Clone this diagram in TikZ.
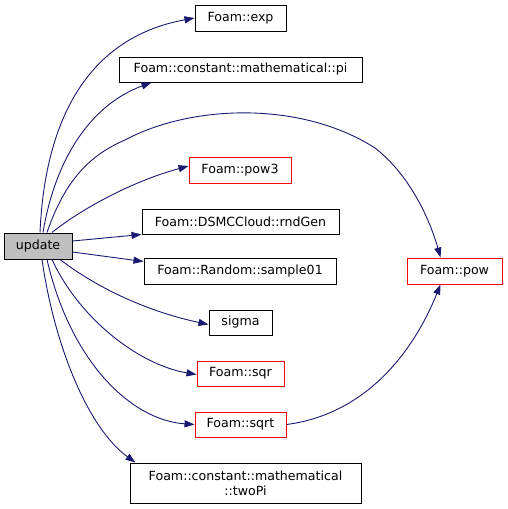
\documentclass[tikz,border=0pt]{standalone}
\usepackage{fontspec}
\setmainfont{DejaVu Sans}
\usetikzlibrary{arrows.meta}
\definecolor{edgeblue}{HTML}{191970}
\definecolor{nodegray}{HTML}{BFBFBF}
\begin{document}
\begin{tikzpicture}[x=1pt,y=-1pt,
  box/.style={draw=black,line width=1pt,rectangle,inner sep=0pt,font=\fontsize{12.6}{15}\selectfont,align=center},
  redbox/.style={box,draw=red},
  edge/.style={draw=edgeblue,line width=0.9pt,-{Triangle[length=10pt,width=7pt]}}]
\useasboundingbox (0,0) rectangle (508,509);
\node[box,fill=nodegray,minimum width=68pt,minimum height=26pt] (update) at (38,246) {update};
\node[box,minimum width=91pt,minimum height=26pt] (exp) at (240.5,18) {Foam::exp};
\node[box,minimum width=243pt,minimum height=25pt] (pi) at (240.5,69.5) {Foam::constant::mathematical::pi};
\node[redbox,minimum width=102pt,minimum height=26pt] (pow3) at (240,170) {Foam::pow3};
\node[box,minimum width=197pt,minimum height=25pt] (rnd) at (240.5,221.5) {Foam::DSMCCloud::rndGen};
\node[box,minimum width=192pt,minimum height=26pt] (samp) at (240,271) {Foam::Random::sample01};
\node[box,minimum width=63pt,minimum height=25pt] (sigma) at (240.5,322.5) {sigma};
\node[redbox,minimum width=87pt,minimum height=25pt] (sqr) at (240.5,373.5) {Foam::sqr};
\node[redbox,minimum width=91pt,minimum height=25pt] (sqrt) at (240.5,424.5) {Foam::sqrt};
\node[box,minimum width=231pt,minimum height=40pt] (twopi) at (245.5,483) {Foam::constant::mathematical\\::twoPi};
\node[redbox,minimum width=95pt,minimum height=26pt] (pow) at (454.5,271) {Foam::pow};

\draw[edge] ([xshift=2pt]update.north) .. controls (44,140) and (75,40) .. (exp.west);
\draw[edge] ([xshift=5pt]update.north) .. controls (55,160) and (90,105) .. ([xshift=33pt]pi.south west);
\draw[edge] ([xshift=9pt]update.north) .. controls (65,180) and (90,155) .. (125,140)
   .. controls (190,105) and (300,100) .. (375,148)
   .. controls (410,175) and (430,220) .. ([xshift=-14pt]pow.north);
\draw[edge] ([xshift=14pt]update.north) .. controls (80,210) and (130,182) .. ([yshift=4pt]pow3.west);
\draw[edge] ([yshift=5pt]update.east) -- ([xshift=0pt]rnd.south west);
\draw[edge] ([yshift=-6pt]update.east) -- ([yshift=-4pt]samp.north west);
\draw[edge] ([xshift=22pt]update.south) .. controls (100,290) and (150,312) .. ([yshift=-2pt]sigma.west);
\draw[edge] ([xshift=14pt]update.south) .. controls (80,320) and (140,365) .. ([yshift=-1pt]sqr.west);
\draw[edge] ([xshift=9pt]update.south) .. controls (70,360) and (130,420) .. (sqrt.west);
\draw[edge] ([xshift=4pt]update.south) .. controls (55,350) and (90,430) .. ([xshift=6pt]twopi.north west);
\draw[edge] (sqrt.east) .. controls (360,415) and (410,360) .. ([xshift=-14pt]pow.south);
\end{tikzpicture}
\end{document}
